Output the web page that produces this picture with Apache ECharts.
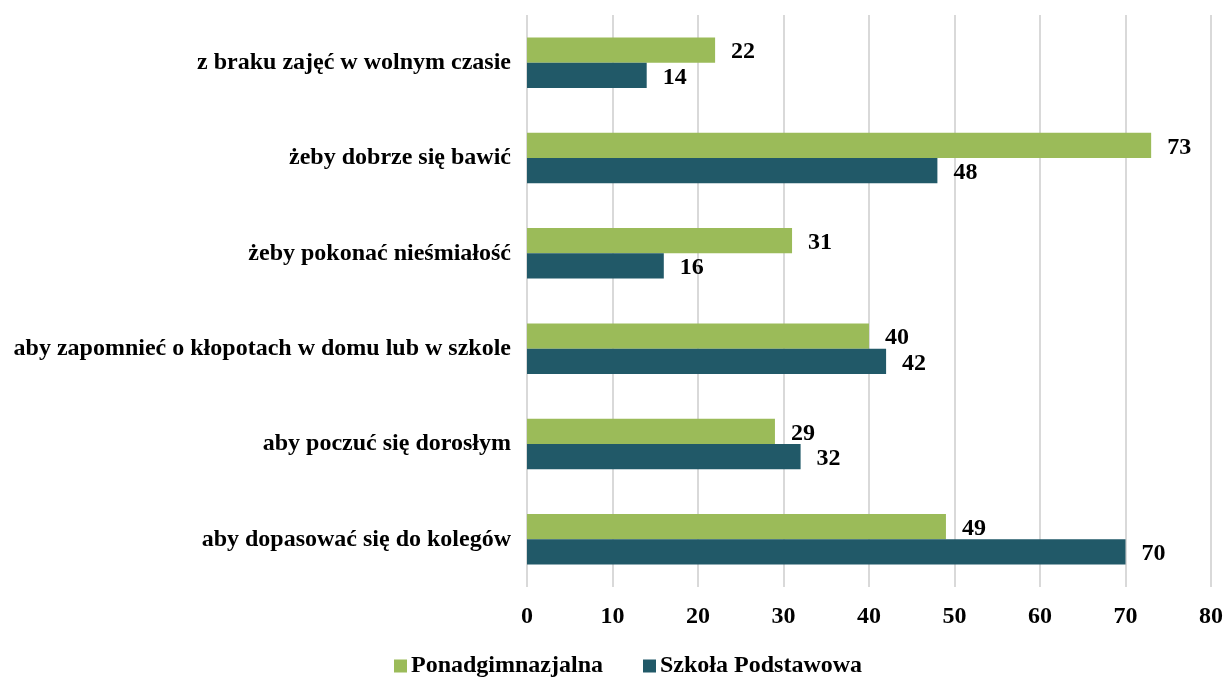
<!DOCTYPE html>
<html>
<head>
<meta charset="utf-8">
<script src="https://cdn.jsdelivr.net/npm/echarts@6/dist/echarts.min.js"></script>
<style>
  html, body { margin: 0; padding: 0; background: #fff; }
  #chart { width: 1226px; height: 679px; }
</style>
</head>
<body>
<div id="chart"></div>
<script>
// categories bottom → top (category axis runs upward)
const categories = [
  'aby dopasować się do kolegów',
  'aby poczuć się dorosłym',
  'aby zapomnieć o kłopotach w domu lub w szkole',
  'żeby pokonać nieśmiałość',
  'żeby dobrze się bawić',
  'z braku zajęć w wolnym czasie',
]
const ponadgimnazjalna = [49, 29, 40, 31, 73, 22]
const szkolaPodstawowa = [70, 32, 42, 16, 48, 14]

const FONT = '"Liberation Serif", "Times New Roman", serif'

const chart = echarts.init(document.getElementById('chart'))

const labelStyle = {
  show: true,
  position: 'right',
  distance: 16,
  offset: [0, 2],
  color: '#000',
  fontFamily: FONT,
  fontWeight: 'bold',
  fontSize: 24,
}

chart.setOption({
  animation: false,
  textStyle: { fontFamily: FONT },
  legend: {
    top: 649,
    left: 389,
    itemWidth: 13,
    itemHeight: 13,
    itemGap: 40,
    icon: 'rect',
    data: ['Ponadgimnazjalna', 'Szkoła Podstawowa'],
    textStyle: { fontFamily: FONT, fontWeight: 'bold', fontSize: 24, color: '#000', padding: [0, 0, 0, -1] },
  },
  grid: {
    left: 527,
    right: 15,
    top: 15,
    bottom: 92,
  },
  xAxis: {
    type: 'value',
    min: 0,
    max: 80,
    interval: 10,
    axisLine: { show: false },
    axisTick: { show: false },
    axisLabel: {
      color: '#000',
      fontFamily: FONT,
      fontWeight: 'bold',
      fontSize: 24,
      margin: 18,
    },
    splitLine: { lineStyle: { color: '#d9d9d9', width: 2 } },
  },
  yAxis: {
    type: 'category',
    data: categories,
    axisLine: { show: false },
    axisTick: { show: false },
    axisLabel: {
      color: '#000',
      fontFamily: FONT,
      fontWeight: 'bold',
      fontSize: 24,
      margin: 16,
    },
  },
  series: [
    {
      name: 'Ponadgimnazjalna',
      type: 'bar',
      data: ponadgimnazjalna,
      barGap: '0%',
      barCategoryGap: '47%',
      itemStyle: { color: '#9BBB59' },
      label: labelStyle,
    },
    {
      name: 'Szkoła Podstawowa',
      type: 'bar',
      data: szkolaPodstawowa,
      barGap: '0%',
      barCategoryGap: '47%',
      itemStyle: { color: '#215968' },
      label: labelStyle,
    },
  ],
})

window.addEventListener('resize', () => chart.resize())
</script>
</body>
</html>
